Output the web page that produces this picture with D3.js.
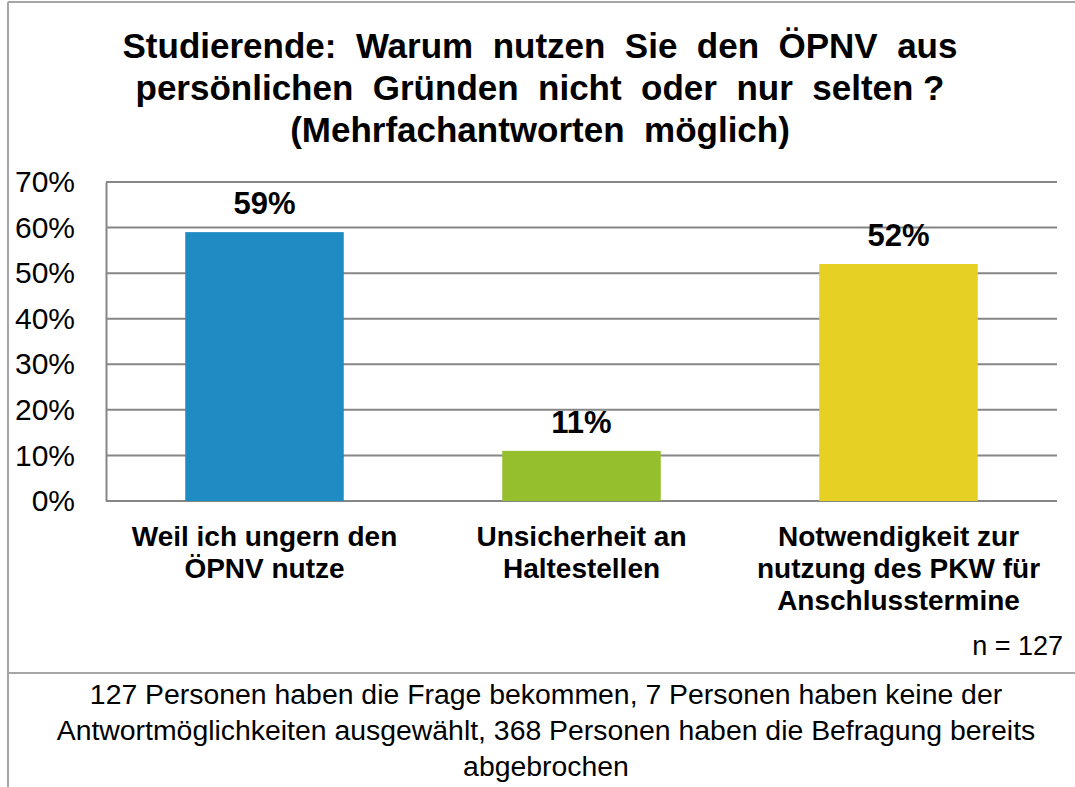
<!DOCTYPE html>
<html>
<head>
<meta charset="utf-8">
<script src="https://cdn.jsdelivr.net/npm/d3@7"></script>
<style>
  body { margin: 0; background: #fff; }
  svg { display: block; font-family: "Liberation Sans", Arial, sans-serif; }
  text { white-space: pre; }
</style>
</head>
<body>
<svg id="chart" width="1075" height="787"></svg>
<script>
// chart data
const categories = [
  ["Weil ich ungern den", "ÖPNV nutze"],
  ["Unsicherheit an", "Haltestellen"],
  ["Notwendigkeit zur", "nutzung des PKW für", "Anschlusstermine"]
];
const values = [0.59, 0.11, 0.52];
const barColors = ["#1e8bc3", "#96bf2d", "#e6d024"];
const yTicks = [0, 0.1, 0.2, 0.3, 0.4, 0.5, 0.6, 0.7];
const titleLines = [
  "Studierende:  Warum  nutzen  Sie  den  ÖPNV  aus",
  "persönlichen  Gründen  nicht  oder  nur  selten ?",
  "(Mehrfachantworten  möglich)"
];
const nLabel = "n = 127";
const footLines = [
  "127 Personen haben die Frage bekommen, 7 Personen haben keine der",
  "Antwortmöglichkeiten ausgewählt, 368 Personen haben die Befragung bereits",
  "abgebrochen"
];

const svg = d3.select('#chart');
const grey = '#868686';

// frame
svg.append('line').attr('x1', 8).attr('x2', 1075).attr('y1', 2).attr('y2', 2)
  .attr('stroke', '#a6a6a6').attr('stroke-width', 2);
svg.append('line').attr('x1', 8).attr('x2', 8).attr('y1', 2).attr('y2', 787)
  .attr('stroke', '#a6a6a6').attr('stroke-width', 2);
svg.append('line').attr('x1', 7).attr('x2', 1075).attr('y1', 673).attr('y2', 673)
  .attr('stroke', '#a6a6a6').attr('stroke-width', 2);

// title
svg.append('text')
  .attr('text-anchor', 'middle')
  .attr('font-size', 35).attr('font-weight', 'bold')
  .selectAll('tspan')
  .data(titleLines)
  .enter()
  .append('tspan')
  .attr('x', 540)
  .attr('y', (d, i) => 58 + i * 42)
  .text(d => d);

// scales
const x = d3.scaleBand()
  .domain(d3.range(categories.length))
  .range([106, 1057])
  .paddingInner(0.5)
  .paddingOuter(0.25);

const y = d3.scaleLinear()
  .domain([0, 0.7])
  .range([501, 182]);

// gridlines
svg.append('g')
  .selectAll('line')
  .data(yTicks)
  .enter()
  .append('line')
  .attr('x1', 106).attr('x2', 1057)
  .attr('y1', d => y(d)).attr('y2', d => y(d))
  .attr('stroke', grey).attr('stroke-width', 2);

// y axis
const yAxis = svg.append('g')
  .attr('transform', 'translate(106,0)')
  .call(d3.axisLeft(y).tickValues(yTicks).tickFormat(d3.format('.0%')).tickSize(0).tickPadding(31));
yAxis.select('.domain').attr('stroke', grey).attr('stroke-width', 2);
yAxis.selectAll('text')
  .attr('font-size', 30)
  .attr('font-family', '"Liberation Sans", Arial, sans-serif')
  .attr('fill', '#000');

// bars
svg.selectAll('rect.bar')
  .data(values)
  .enter()
  .append('rect')
  .attr('class', 'bar')
  .attr('x', (d, i) => x(i))
  .attr('width', x.bandwidth())
  .attr('y', d => y(d))
  .attr('height', d => y(0) - y(d))
  .attr('fill', (d, i) => barColors[i]);

// value labels
svg.selectAll('text.val')
  .data(values)
  .enter()
  .append('text')
  .attr('class', 'val')
  .attr('text-anchor', 'middle')
  .attr('font-size', 31).attr('font-weight', 'bold')
  .attr('x', (d, i) => x(i) + x.bandwidth() / 2)
  .attr('y', d => y(d) - 18)
  .text(d => d3.format('.0%')(d));

// category labels
svg.selectAll('text.cat')
  .data(categories)
  .enter()
  .append('text')
  .attr('class', 'cat')
  .attr('text-anchor', 'middle')
  .attr('font-size', 28).attr('font-weight', 'bold')
  .each(function (lines, i) {
    d3.select(this).selectAll('tspan')
      .data(lines)
      .enter()
      .append('tspan')
      .attr('x', x(i) + x.bandwidth() / 2)
      .attr('y', (d, j) => 546 + j * 32)
      .text(d => d);
  });

// n label
svg.append('text')
  .attr('text-anchor', 'end')
  .attr('x', 1063).attr('y', 655)
  .attr('font-size', 27)
  .text(nLabel);

// footnote
svg.append('text')
  .attr('text-anchor', 'middle')
  .attr('font-size', 28.4)
  .selectAll('tspan')
  .data(footLines)
  .enter()
  .append('tspan')
  .attr('x', 546)
  .attr('y', (d, i) => 704 + i * 36)
  .text(d => d);
</script>
</body>
</html>
